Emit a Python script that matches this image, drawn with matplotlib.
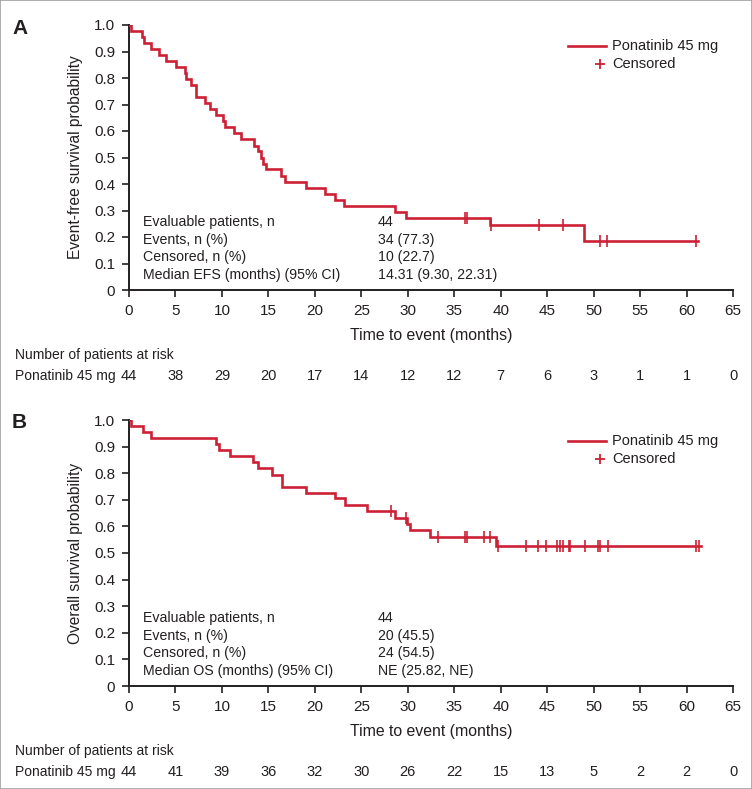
import matplotlib
matplotlib.use('Agg')
import matplotlib.pyplot as plt
import numpy as np
from matplotlib.transforms import blended_transform_factory
from matplotlib.patches import Rectangle

plt.rcParams['font.family'] = ['Liberation Sans', 'DejaVu Sans']

RED = '#CC2035'
INK = '#231f20'

# ---------------- Panel A: event-free survival ----------------
efs_times = [0, 0.2, 1.4, 1.6, 2.4, 3.2, 4.0, 5.1, 6.0, 6.1, 6.7, 7.2, 8.2, 8.7, 9.4,
             10.1, 10.3, 11.3, 12.0, 13.5, 13.85, 14.2, 14.45, 14.7, 16.35, 16.8,
             19.1, 21.1, 22.2, 23.1, 28.6, 29.8, 38.9, 49.0]
efs_surv = [1.0, 0.977, 0.955, 0.932, 0.909, 0.886, 0.864, 0.841, 0.818, 0.795, 0.773,
            0.727, 0.705, 0.682, 0.659, 0.636, 0.614, 0.591, 0.568, 0.545, 0.523, 0.5,
            0.477, 0.455, 0.432, 0.409, 0.386, 0.364, 0.341, 0.318, 0.295, 0.273,
            0.245, 0.184]
efs_end = 61.2
efs_censor = [36.2, 36.4, 38.97, 44.1, 46.7, 50.7, 51.4, 61.0]
efs_stats_labels = ['Evaluable patients, n', 'Events, n (%)', 'Censored, n (%)',
                    'Median EFS (months) (95% CI)']
efs_stats_values = ['44', '34 (77.3)', '10 (22.7)', '14.31 (9.30, 22.31)']
efs_risk = [44, 38, 29, 20, 17, 14, 12, 12, 7, 6, 3, 1, 1, 0]

# ---------------- Panel B: overall survival ----------------
os_times = [0, 0.18, 1.47, 2.37, 9.36, 9.69, 10.87, 13.3, 13.9, 15.4, 16.45, 19.1,
            22.17, 23.25, 25.65, 28.63, 29.96, 30.25, 32.4, 39.5]
os_surv = [1.0, 0.977, 0.955, 0.932, 0.909, 0.886, 0.864, 0.841, 0.818, 0.795, 0.75,
           0.727, 0.705, 0.682, 0.659, 0.63, 0.609, 0.586, 0.561, 0.526]
os_end = 61.6
os_censor = [28.2, 29.8, 33.3, 36.2, 36.4, 38.25, 38.9, 39.7, 42.7, 44.0, 44.85, 46.1,
             46.35, 46.75, 47.3, 47.5, 49.1, 50.45, 50.7, 51.5, 61.0, 61.3]
os_stats_labels = ['Evaluable patients, n', 'Events, n (%)', 'Censored, n (%)',
                   'Median OS (months) (95% CI)']
os_stats_values = ['44', '20 (45.5)', '24 (54.5)', 'NE (25.82, NE)']
os_risk = [44, 41, 39, 36, 32, 30, 26, 22, 15, 13, 5, 2, 2, 0]

risk_times = list(range(0, 66, 5))
x_ticks = list(range(0, 66, 5))
y_ticks = [0, 0.1, 0.2, 0.3, 0.4, 0.5, 0.6, 0.7, 0.8, 0.9, 1.0]
y_ticklabels = ['0', '0.1', '0.2', '0.3', '0.4', '0.5', '0.6', '0.7', '0.8', '0.9', '1.0']

W, H = 752, 789
fig = plt.figure(figsize=(W / 100, H / 100), dpi=100)
fig.patches.append(Rectangle((0, 0), 1, 1, transform=fig.transFigure, fill=False,
                             edgecolor='#a0a0a0', linewidth=1.2))


def px_axes(left, top, right, bottom):
    return fig.add_axes([left / W, 1 - bottom / H, (right - left) / W, (bottom - top) / H])


def draw_panel(ax, letter, times, surv, end, censor, ylabel, stats_labels, stats_values,
               risk, top_px):
    t = list(times) + [end]
    s = list(surv) + [surv[-1]]
    ax.step(t, s, where='post', color=RED, lw=1.9, solid_joinstyle='miter', zorder=3)
    idx = np.searchsorted(np.array(times), np.array(censor), side='right') - 1
    cy = np.array(surv)[idx]
    ax.plot(censor, cy, ls='none', marker='|', ms=8, mew=1.2, color=RED, zorder=4)

    ax.set_xlim(0, 65)
    ax.set_ylim(0, 1.0)
    ax.set_xticks(x_ticks)
    ax.set_yticks(y_ticks)
    ax.set_yticklabels(y_ticklabels)
    for sp in ['top', 'right']:
        ax.spines[sp].set_visible(False)
    for sp in ['left', 'bottom']:
        ax.spines[sp].set_linewidth(1.4)
        ax.spines[sp].set_color(INK)
    ax.tick_params(direction='out', length=5, width=1.2, colors=INK,
                   labelsize=11, pad=5)
    ax.tick_params(axis='x', pad=5)
    ax.set_xlabel('Time to event (months)', fontsize=11.4, labelpad=7, color=INK)
    ax.set_ylabel(ylabel, fontsize=11.2, color=INK)
    ax.yaxis.set_label_coords(-0.076, 0.5)

    # panel letter
    fig.text(12 / W, 1 - (top_px + 3) / H, letter, fontsize=15, fontweight='bold',
             ha='left', va='center', color=INK)

    # legend (drawn manually)
    ax.plot([0.727, 0.79], [0.921, 0.921], transform=ax.transAxes, color=RED, lw=1.9,
            clip_on=False)
    ax.text(0.80, 0.921, 'Ponatinib 45 mg', transform=ax.transAxes, fontsize=10.5,
            va='center', ha='left', color=INK)
    ax.plot([0.78], [0.853], transform=ax.transAxes, marker='+', ms=7, mew=1.3,
            color=RED, ls='none', clip_on=False)
    ax.text(0.80, 0.853, 'Censored', transform=ax.transAxes, fontsize=10.5,
            va='center', ha='left', color=INK)

    # statistics block
    rows_y = [0.257, 0.189, 0.125, 0.057]
    for lab, val, yy in zip(stats_labels, stats_values, rows_y):
        ax.text(0.023, yy, lab, transform=ax.transAxes, fontsize=10.2, va='center',
                ha='left', color=INK)
        ax.text(0.412, yy, val, transform=ax.transAxes, fontsize=10.2, va='center',
                ha='left', color=INK)

    # number at risk
    bl = blended_transform_factory(ax.transData, ax.transAxes)
    fig_x = blended_transform_factory(fig.transFigure, ax.transAxes)
    ax.text(15 / W, -0.245, 'Number of patients at risk', transform=fig_x, fontsize=10,
            ha='left', va='center', color=INK)
    ax.text(15 / W, -0.325, 'Ponatinib 45 mg', transform=fig_x, fontsize=10,
            ha='left', va='center', color=INK)
    for tt, n in zip(risk_times, risk):
        ax.text(tt, -0.325, str(n), transform=bl, fontsize=10.5, ha='center',
                va='center', color=INK)


axA = px_axes(129, 25, 733, 290)
draw_panel(axA, 'A', efs_times, efs_surv, efs_end, efs_censor,
           'Event-free survival probability', efs_stats_labels, efs_stats_values,
           efs_risk, 25)

axB = px_axes(129, 420, 733, 686)
draw_panel(axB, 'B', os_times, os_surv, os_end, os_censor,
           'Overall survival probability', os_stats_labels, os_stats_values,
           os_risk, 420)

fig.savefig('out.png', dpi=100)
